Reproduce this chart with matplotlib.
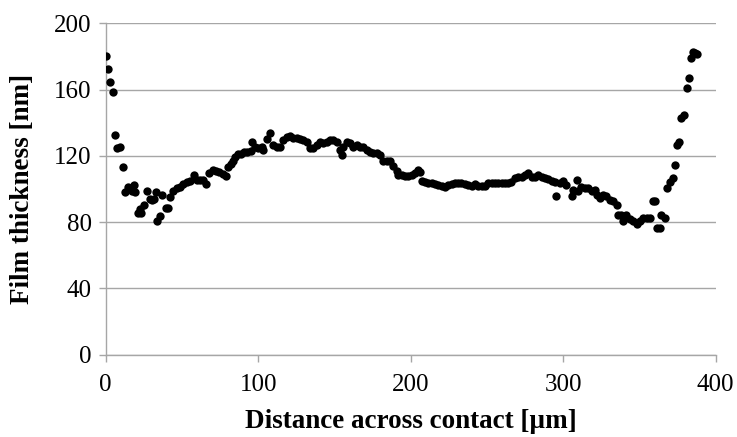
import matplotlib
matplotlib.use("Agg")
import matplotlib.pyplot as plt

distance_um = [
    0.0, 1.3, 3.1, 4.5, 6.3, 7.6, 9.4, 11.2, 12.6, 14.6, 17.1, 18.7, 19.5, 20.9, 22.2, 23.2,
    25.0, 26.9, 28.8, 30.3, 31.4, 32.7, 33.6, 35.3, 36.8, 39.5, 40.6, 42.0, 44.2, 46.6, 48.9,
    50.9, 53.0, 55.3, 57.6, 59.7, 61.8, 64.0, 66.0, 68.0, 70.4, 72.6, 74.5, 76.7, 78.8, 80.3,
    82.0, 83.5, 85.0, 86.8, 88.6, 90.5, 92.8, 95.5, 95.9, 97.8, 100.0, 102.2, 103.3, 105.6,
    107.7, 109.9, 112.1, 114.3, 116.4, 118.7, 120.8, 123.0, 125.2, 127.4, 129.5, 131.8, 133.9,
    136.1, 138.3, 140.5, 142.6, 144.9, 147.0, 149.2, 151.4, 153.6, 154.7, 155.7, 158.0, 160.1,
    162.3, 164.5, 166.7, 168.8, 171.1, 173.2, 175.4, 177.6, 179.8, 182.0, 184.2, 186.3, 188.5,
    190.7, 191.8, 194.1, 196.2, 198.4, 200.6, 202.8, 204.9, 206.0, 207.2, 209.3, 211.5, 213.7,
    215.9, 218.0, 220.3, 222.4, 224.6, 226.8, 229.0, 231.1, 233.3, 235.5, 237.7, 239.9, 242.1,
    244.2, 246.5, 248.6, 250.8, 253.0, 255.2, 257.4, 259.6, 261.8, 263.9, 266.1, 268.3, 270.5,
    272.7, 274.9, 277.0, 279.3, 281.4, 283.6, 285.8, 288.0, 290.1, 292.4, 294.5, 295.6, 297.8,
    300.0, 302.1, 305.5, 306.5, 308.8, 309.8, 312.0, 314.2, 316.3, 318.6, 320.7, 321.9, 324.1,
    326.2, 328.3, 330.6, 332.8, 335.0, 336.0, 338.2, 339.3, 341.5, 343.7, 345.9, 348.1, 350.3,
    352.4, 354.7, 356.8, 359.0, 360.0, 361.2, 363.4, 364.4, 366.6, 368.1, 369.9, 371.7, 373.1,
    374.3, 376.0, 377.5, 379.1, 380.9, 382.5, 384.1, 385.3, 386.3, 387.5,
]
thickness_nm = [
    180.5, 172.5, 164.5, 158.4, 132.7, 124.7, 125.5, 113.4, 98.2, 101.2, 99.0, 102.2, 98.0, 85.6, 88.2, 85.4,
    90.2, 98.6, 94.2, 93.6, 94.2, 98.4, 80.5, 83.8, 96.5, 88.4, 88.4, 95.4, 99.0, 100.8, 101.4,
    102.8, 104.2, 104.9, 108.5, 105.4, 105.6, 105.4, 103.3, 109.8, 111.4, 111.0, 110.5, 109.3, 108.0, 113.4,
    115.2, 117.0, 119.5, 121.2, 121.0, 122.4, 122.6, 123.0, 128.3, 125.6, 124.6, 125.6, 123.6, 130.1,
    133.7, 126.7, 125.6, 125.6, 129.7, 131.3, 131.7, 130.7, 130.7, 130.1, 129.7, 128.6, 124.7,
    124.7, 126.7, 128.6, 127.6, 128.6, 129.7, 129.7, 128.6, 123.6, 120.6, 125.6, 128.6, 127.6,
    125.6, 126.7, 125.6, 125.6, 123.6, 122.6, 122.0, 122.0, 120.6, 116.6, 116.6, 116.6, 113.6,
    110.6, 108.6, 108.6, 108.0, 108.0, 108.6, 109.6, 111.2, 110.0, 105.1, 104.5, 103.9, 103.5,
    103.1, 102.5, 101.9, 101.5, 102.5, 103.1, 103.5, 103.5, 103.5, 103.1, 102.5, 101.9, 103.1,
    101.9, 101.9, 101.9, 103.9, 103.9, 103.9, 103.9, 103.9, 103.9, 103.9, 104.5, 106.6, 107.5,
    107.5, 108.6, 109.6, 107.5, 107.5, 108.6, 107.5, 106.6, 106.0, 104.9, 104.5, 95.5, 103.5,
    104.9, 102.5, 95.5, 99.5, 105.5, 98.5, 101.5, 100.9, 100.9, 98.5, 99.5, 96.5, 94.5,
    96.5, 95.5, 93.5, 92.5, 90.1, 84.4, 84.4, 80.4, 84.4, 82.0, 80.4, 78.8, 80.4,
    82.4, 82.8, 82.8, 92.5, 92.5, 76.4, 76.4, 84.4, 82.4, 100.5, 104.5, 106.5, 114.6,
    126.7, 128.6, 142.8, 144.8, 160.9, 166.9, 178.9, 182.9, 182.0, 181.3,
]

x_ticks = [0, 100, 200, 300, 400]
y_ticks = [0, 40, 80, 120, 160, 200]

plt.rcParams['font.family'] = ['Liberation Serif', 'DejaVu Serif']

fig = plt.figure(figsize=(7.37, 4.37), dpi=100)
ax = fig.add_axes([0.1434, 0.1883, 0.9711 - 0.1434, 0.9467 - 0.1883])

ax.plot(distance_um, thickness_nm, linestyle='none', marker='o', markersize=6.0,
        color='black', markeredgewidth=0, zorder=3)

ax.set_xlim(0, 400)
ax.set_ylim(0, 200)
ax.set_xticks(x_ticks)
ax.set_yticks(y_ticks)

grid_color = '#a6a6a6'
ax.yaxis.grid(True, color=grid_color, linewidth=1.0)
ax.set_axisbelow(True)
for s in ['top', 'right']:
    ax.spines[s].set_visible(False)
for s in ['left', 'bottom']:
    ax.spines[s].set_color(grid_color)
    ax.spines[s].set_linewidth(1.0)
ax.tick_params(axis='both', direction='out', length=5, width=1.0, color=grid_color,
               labelsize=18)
ax.tick_params(axis='x', pad=9)
ax.tick_params(axis='y', pad=5)

ax.set_xlabel('Distance across contact [µm]', fontsize=19.5, fontweight='bold', labelpad=9)
ax.set_ylabel('Film thickness [nm]', fontsize=19.5, fontweight='bold', labelpad=14)

fig.savefig('out.png', dpi=100)
